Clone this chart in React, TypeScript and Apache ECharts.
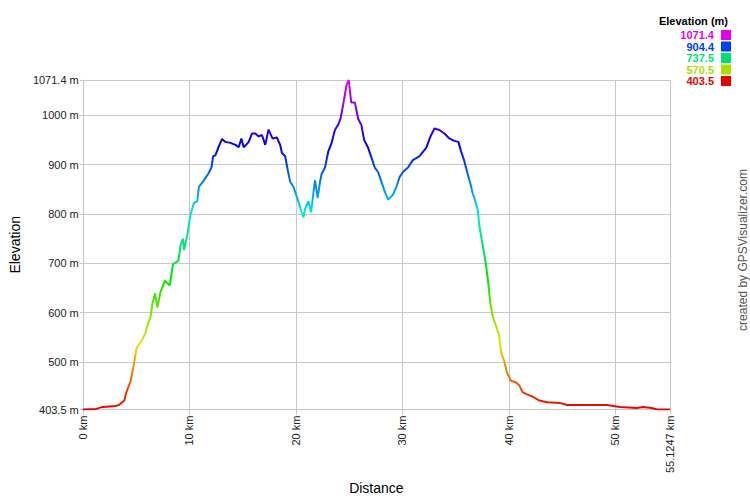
import React, { useEffect, useRef } from "react";
import * as echarts from "echarts";

const distanceKm = [
  0, 1.25, 1.87, 3.1, 3.4, 3.9, 4.1, 4.5, 4.8, 5.05, 5.45, 5.86, 6.07, 6.38, 6.54, 6.79, 7.0, 7.3, 7.72, 8.16,
  8.47, 8.97, 9.19, 9.4, 9.5, 9.81, 10.12, 10.43, 10.75, 10.9, 11.37, 11.77, 12.08, 12.24, 12.46, 12.77, 13.08,
  13.39, 13.86, 14.33, 14.64, 14.89, 15.11, 15.58, 15.88, 16.2, 16.51, 16.82, 17.13, 17.44, 17.81, 18.22, 18.53,
  18.69, 19.0, 19.25, 19.47, 19.78, 20.18, 20.56, 20.71, 20.87, 21.18, 21.43, 21.65, 21.8, 22.05, 22.27, 22.42,
  22.74, 23.05, 23.36, 23.67, 23.98, 24.2, 24.45, 24.76, 24.97, 25.2, 25.54, 25.85, 26.16, 26.41, 26.79, 27.1,
  27.41, 27.72, 28.04, 28.35, 28.66, 29.13, 29.44, 29.75, 30.06, 30.53, 30.99, 31.61, 32.24, 32.64, 33.01, 33.48,
  33.95, 34.41, 34.88, 35.26, 35.51, 35.82, 36.13, 36.38, 36.6, 36.76, 37.07, 37.22, 37.54, 37.85, 38.07, 38.26,
  38.47, 38.78, 39.09, 39.25, 39.56, 39.81, 40.19, 40.65, 40.97, 41.28, 41.75, 42.22, 42.84, 43.62, 44.85, 45.47,
  49.2, 50.45, 52.0, 52.6, 53.4, 54.0, 55.1247,
];
const elevationM = [
  403.5, 405, 409, 411, 413, 422, 439, 462, 495, 528, 541, 557, 574, 593, 619, 639, 610, 642, 665, 655,
  698, 705, 737, 750, 727, 757, 799, 822, 826, 855, 868, 881, 894, 917, 919, 937, 952,
  946, 944, 940, 935, 953, 935, 946, 963, 963, 957, 960, 940, 971, 953, 955, 940,
  924, 917, 888, 865, 855, 829, 803, 793, 810, 826, 803, 842, 868, 832, 865, 881,
  894, 927, 944, 970, 981, 993, 1022, 1061, 1071.4, 1026, 1026, 993, 980, 950, 934, 914,
  894, 885, 865, 845, 829, 839, 855, 875, 885, 894, 909, 917, 934, 957, 973, 970,
  963, 953, 948, 946, 927, 907, 881, 862, 842, 832, 810, 777, 737, 698, 659, 619,
  593, 574, 554, 521, 502, 479, 462, 459, 453, 439, 434, 430, 422, 418.6, 416.7, 412.7,
  412.7, 409, 406.8, 409, 406.8, 403.5, 403.5,
];

const elevMin = 403.5;
const elevMax = 1071.4;
const distMax = 55.1247;

const legendValues = ["1071.4", "904.4", "737.5", "570.5", "403.5"];
const legendColors = ["#e600e6", "#0040f0", "#00e070", "#aade00", "#e60000"];

const FONT = "'Liberation Sans', Arial, sans-serif";

function hueColors(): string[] {
  const out: string[] = [];
  for (let h = 0; h <= 300; h += 15) out.push(`hsl(${h}, 100%, 45%)`);
  return out;
}

export default function App() {
  const ref = useRef<HTMLDivElement>(null);
  useEffect(() => {
    if (!ref.current) return;
    document.body.style.margin = "0";
    const chart = echarts.init(ref.current, undefined, { renderer: "svg", width: 750, height: 500 });
    const data = distanceKm.map((d, i) => [d, elevationM[i]]);
    const graphics: any[] = [
      {
        type: "text",
        x: 728,
        y: 21,
        style: {
          text: "Elevation (m)",
          font: `bold 11px ${FONT}`,
          fill: "#000",
          align: "right",
          verticalAlign: "middle",
        },
      },
      {
        type: "text",
        x: 743,
        y: 250,
        rotation: Math.PI / 2,
        style: {
          text: "created by GPSVisualizer.com",
          font: `12px ${FONT}`,
          fill: "#555",
          align: "center",
          verticalAlign: "middle",
        },
      },
    ];
    legendValues.forEach((v, i) => {
      const cy = 35 + i * 11.5;
      graphics.push({
        type: "text",
        x: 714,
        y: cy,
        style: {
          text: v,
          font: `bold 11px ${FONT}`,
          fill: legendColors[i],
          align: "right",
          verticalAlign: "middle",
        },
      });
      graphics.push({
        type: "rect",
        shape: { x: 721, y: cy - 5, width: 10, height: 10 },
        style: { fill: legendColors[i] },
      });
    });
    chart.setOption({
      animation: false,
      grid: { left: 80, top: 80, width: 590, height: 340, containLabel: false },
      textStyle: { fontFamily: FONT },
      xAxis: {
        type: "value",
        min: 0,
        max: distMax,
        splitNumber: 5,
        name: "Distance",
        nameLocation: "middle",
        nameGap: 67,
        nameTextStyle: { fontSize: 14, color: "#000", fontFamily: FONT },
        axisLine: { lineStyle: { color: "#c8c8c8" } },
        axisTick: { show: true, length: 5, lineStyle: { color: "#c8c8c8" } },
        axisLabel: {
          rotate: 90,
          margin: 6,
          fontSize: 11,
          color: "#222",
          fontFamily: FONT,
          formatter: (v: number) => `${v} km`,
        },
        splitLine: { show: true, lineStyle: { color: "#c8c8c8", width: 1 } },
      },
      yAxis: {
        type: "value",
        min: elevMin,
        max: elevMax,
        splitNumber: 5,
        name: "Elevation",
        nameLocation: "middle",
        nameGap: 58,
        nameTextStyle: { fontSize: 14, color: "#000", fontFamily: FONT },
        axisLine: { show: true, lineStyle: { color: "#c8c8c8" } },
        axisTick: { show: true, length: 3, lineStyle: { color: "#c8c8c8" } },
        axisLabel: {
          margin: 4,
          fontSize: 11,
          color: "#222",
          fontFamily: FONT,
          formatter: (v: number) => `${v} m`,
        },
        splitLine: { show: true, lineStyle: { color: "#c8c8c8", width: 1 } },
      },
      visualMap: {
        show: false,
        type: "continuous",
        dimension: 1,
        seriesIndex: 0,
        min: elevMin,
        max: elevMax,
        inRange: { color: hueColors() },
      },
      series: [
        {
          type: "line",
          data,
          showSymbol: false,
          lineStyle: { width: 2 },
        },
      ],
      graphic: graphics,
    });
    return () => chart.dispose();
  }, []);
  return (
    <div
      ref={ref}
      style={{ position: "fixed", left: 0, top: 0, width: 750, height: 500, background: "#fff" }}
    />
  );
}
